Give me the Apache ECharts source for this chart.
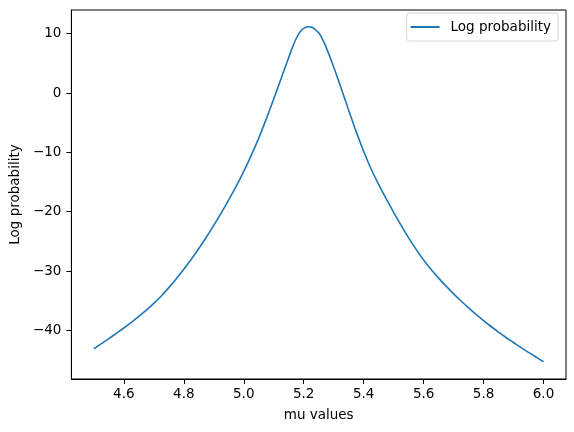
<!DOCTYPE html>
<html>
<head>
<meta charset="utf-8">
<script src="https://cdn.jsdelivr.net/npm/echarts@6/dist/echarts.min.js"></script>
<style>html,body{margin:0;padding:0;background:#fff}#c{width:574px;height:432px}</style>
</head>
<body>
<div id="c"></div>
<script>
const muValues = [4.500,4.525,4.550,4.575,4.600,4.625,4.650,4.675,4.700,4.725,4.750,4.775,4.800,4.825,4.850,4.875,4.900,4.925,4.950,4.975,5.000,5.025,5.050,5.075,5.100,5.125,5.150,5.1625,5.175,5.1875,5.200,5.2125,5.225,5.2375,5.250,5.2625,5.275,5.300,5.325,5.350,5.375,5.400,5.425,5.450,5.475,5.500,5.525,5.550,5.575,5.600,5.625,5.650,5.675,5.700,5.725,5.750,5.775,5.800,5.825,5.850,5.875,5.900,5.925,5.950,5.975,6.000];
const logProb = [-43.1,-42.25,-41.4,-40.5,-39.6,-38.65,-37.65,-36.6,-35.45,-34.2,-32.8,-31.3,-29.7,-28.0,-26.2,-24.3,-22.3,-20.2,-18.0,-15.7,-13.2,-10.5,-7.6,-4.4,-1.0,2.5,6.0,7.7,9.2,10.3,10.9,11.18,11.12,10.75,10.15,9.1,7.7,4.4,0.8,-2.9,-6.5,-9.8,-12.8,-15.4,-17.8,-20.1,-22.3,-24.4,-26.35,-28.15,-29.75,-31.2,-32.55,-33.85,-35.05,-36.2,-37.3,-38.35,-39.35,-40.3,-41.2,-42.05,-42.9,-43.7,-44.5,-45.3];
const xTicks = [4.6,4.8,5.0,5.2,5.4,5.6,5.8,6.0];
const yTicks = [-40,-30,-20,-10,0,10];
const seriesName = 'Log probability';
const xLabel = 'mu values';
const yLabel = 'Log probability';

const font = 'DejaVu Sans';
const fs = 13.5;
const fmt = v => String(v).replace('-', '\u2212');
const chart = echarts.init(document.getElementById('c'), null, {renderer: 'canvas'});
chart.setOption({
  animation: false,
  backgroundColor: '#fff',
  grid: {left: 70, top: 10, right: 8, bottom: 53, show: true, borderColor: '#000', borderWidth: 1, backgroundColor: 'transparent'},
  legend: {
    right: 16, top: 13, orient: 'horizontal',
    data: [{name: seriesName, icon: 'rect'}],
    itemWidth: 29, itemHeight: 2, itemGap: 10,
    padding: [7, 7, 7, 4],
    borderColor: '#d6d6d6', borderWidth: 1, borderRadius: 3,
    textStyle: {fontFamily: font, fontSize: fs, lineHeight: 14, color: '#000', padding: [0, 0, 0, 6]}
  },
  xAxis: {
    type: 'value', min: 4.425, max: 6.075,
    name: xLabel, nameLocation: 'middle', nameGap: 29,
    nameTextStyle: {fontFamily: font, fontSize: fs, color: '#000'},
    axisLine: {show: true, onZero: false, lineStyle: {color: '#000', width: 1}},
    axisTick: {show: true, length: 5, customValues: xTicks, lineStyle: {color: '#000'}},
    axisLabel: {customValues: xTicks, formatter: v => fmt(v.toFixed(1)), fontFamily: font, fontSize: fs, color: '#000', margin: 8},
    splitLine: {show: false}
  },
  yAxis: {
    type: 'value', min: -48.2, max: 14.0,
    name: yLabel, nameLocation: 'middle', nameGap: 46, nameRotate: 90,
    nameTextStyle: {fontFamily: font, fontSize: fs, color: '#000'},
    axisLine: {show: true, onZero: false, lineStyle: {color: '#000', width: 1}},
    axisTick: {show: true, length: 5, customValues: yTicks, lineStyle: {color: '#000'}},
    axisLabel: {customValues: yTicks, formatter: v => fmt(v), fontFamily: font, fontSize: fs, color: '#000', margin: 10},
    splitLine: {show: false}
  },
  series: [{
    name: seriesName, type: 'line',
    data: muValues.map((m, i) => [m, logProb[i]]),
    smooth: 0.3, showSymbol: false,
    lineStyle: {color: '#1f77b4', width: 1.6},
    itemStyle: {color: '#1f77b4'}
  }]
});
</script>
</body>
</html>
